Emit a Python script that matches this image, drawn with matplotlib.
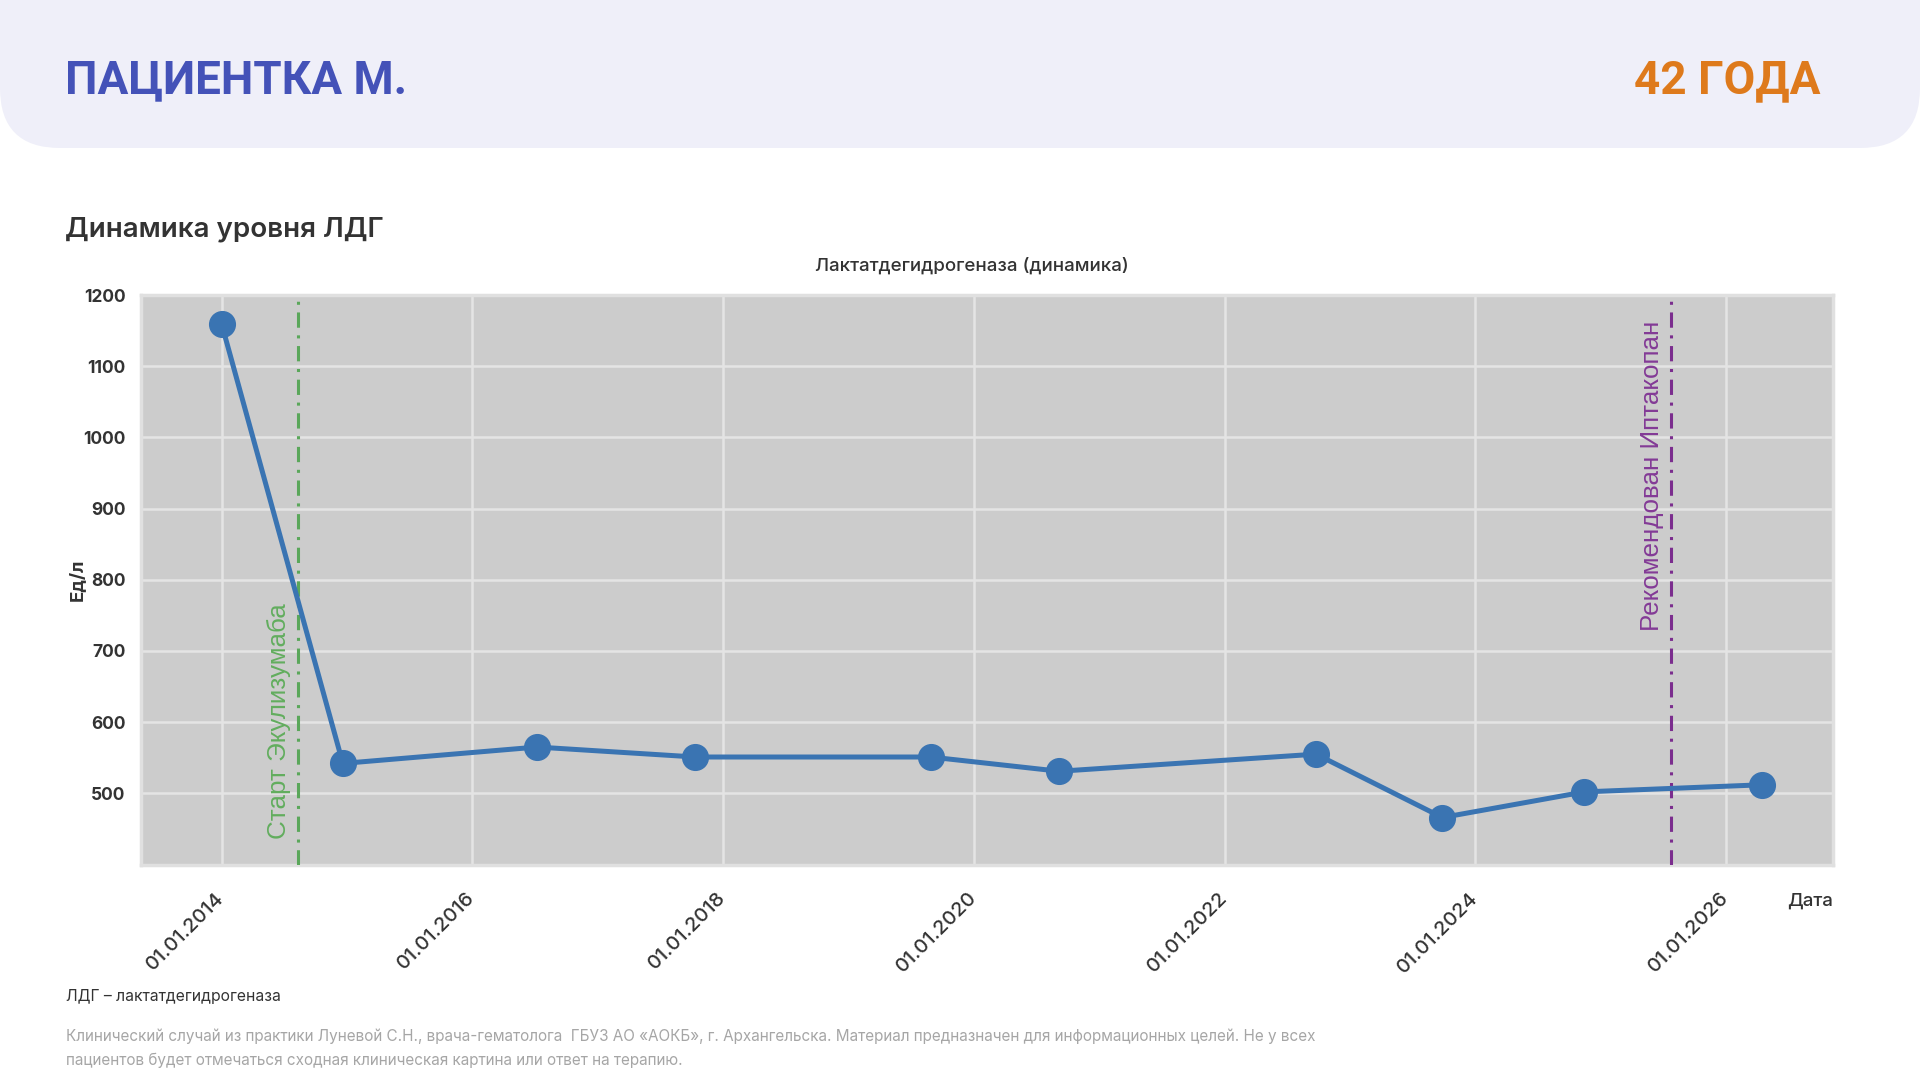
import matplotlib
matplotlib.use("Agg")
import matplotlib.pyplot as plt
from matplotlib.patches import FancyBboxPatch
from matplotlib import transforms
import pandas as pd

# ---- data ----
dates = ["2014-01-01", "2014-12-20", "2016-07-08", "2017-10-12", "2019-08-28",
         "2020-09-06", "2022-09-24", "2023-09-27", "2024-11-14", "2026-04-16"]
ldh = [1159, 542, 565, 551, 551, 531, 555, 466, 502, 512]
event_dates = ["2014-08-10", "2025-07-24"]
event_labels = ["Старт Экулизумаба", "Рекомендован Иптакопан"]
xtick_dates = ["2014-01-01", "2016-01-01", "2018-01-01", "2020-01-01",
               "2022-01-01", "2024-01-01", "2026-01-01"]
ytick_vals = [500, 600, 700, 800, 900, 1000, 1100, 1200]

title_left = "ПАЦИЕНТКА М."
title_right = "42 ГОДА"
section_title = "Динамика уровня ЛДГ"
chart_title = "Лактатдегидрогеназа (динамика)"
ylabel = "Ед/л"
xlabel = "Дата"
footnote = "ЛДГ – лактатдегидрогеназа"
disclaimer = ["Клинический случай из практики Луневой С.Н., врача-гематолога  ГБУЗ АО «АОКБ», г. Архангельска. Материал предназначен для информационных целей. Не у всех",
              "пациентов будет отмечаться сходная клиническая картина или ответ на терапию."]

plt.rcParams['font.family'] = ['Inter', 'DejaVu Sans']

W, H = 1920, 1080
fig = plt.figure(figsize=(19.2, 10.8), dpi=100)
fig.patch.set_facecolor("white")

# overlay axes in pixel coordinates
ov = fig.add_axes([0, 0, 1, 1], zorder=0)
ov.set_xlim(0, W)
ov.set_ylim(H, 0)
ov.axis("off")
ov.add_patch(FancyBboxPatch((0, -120), W, 268, boxstyle="round,pad=0,rounding_size=60",
                            facecolor="#efeff9", edgecolor="none"))
ov.text(65, 93, title_left, fontsize=33, fontweight="bold", color="#4452b8", va="baseline", ha="left",
        family=["Roboto", "DejaVu Sans"])
ov.text(1820, 93, title_right, fontsize=33, fontweight="bold", color="#de7a1c", va="baseline", ha="right",
        family=["Roboto", "DejaVu Sans"])
ov.text(65, 237, section_title, fontsize=20, fontweight="semibold", color="#333333", va="baseline", ha="left")
ov.text(66, 1001, footnote, fontsize=11.3, color="#333333", va="baseline", ha="left")
ov.text(66, 1041, disclaimer[0], fontsize=11, color="#a6a6a6", va="baseline", ha="left")
ov.text(66, 1065, disclaimer[1], fontsize=11, color="#a6a6a6", va="baseline", ha="left")

# main axes
L, R, T, B = 141, 1833, 295, 864.5
ax = fig.add_axes([L / W, 1 - B / H, (R - L) / W, (B - T) / H], zorder=1)
ax.set_facecolor("#cccccc")

x = pd.to_datetime(dates)
ax.plot(x, ldh, color="#3a74b2", lw=3.6, marker="o", markersize=18.5, zorder=4)

ev = pd.to_datetime(event_dates)
ev_colors = ["#5aa75a", "#7b2d8e"]
ev_text_colors = ["#62ad5e", "#833a96"]
for i, (d, lab) in enumerate(zip(ev, event_labels)):
    ax.axvline(d, color=ev_colors[i], lw=2.2, ls=(0, (5, 2.5, 1, 2.5)), zorder=3)
    tr = transforms.offset_copy(ax.get_xaxis_transform(), fig=fig, x=-19, y=0, units="dots")
    if i == 0:
        ax.text(d, 0.045, lab, rotation=90, color=ev_text_colors[i], fontsize=18.7,
                family=["Liberation Sans", "DejaVu Sans"], ha="center", va="bottom", transform=tr)
    else:
        ax.text(d, 0.955, lab, rotation=90, color=ev_text_colors[i], fontsize=18.7,
                family=["Liberation Sans", "DejaVu Sans"], ha="center", va="top", transform=tr)

ax.set_xlim(pd.Timestamp("2013-05-11"), pd.Timestamp("2026-11-08"))
ax.set_ylim(400, 1200)
xt = pd.to_datetime(xtick_dates)
ax.set_xticks(xt)
ax.set_xticklabels([d.strftime("%d.%m.%Y") for d in xt], rotation=45, ha="right", va="center",
                   rotation_mode="anchor", fontsize=14.5, fontweight="medium", color="#333333")
shift = transforms.ScaledTranslation(-6 / 100, 5 / 100, fig.dpi_scale_trans)
for lbl in ax.get_xticklabels():
    lbl.set_transform(lbl.get_transform() + shift)
ax.set_yticks(ytick_vals)
ax.set_yticklabels([str(v) for v in ytick_vals], fontsize=12.5, fontweight="bold", color="#333333")
ax.tick_params(axis="both", length=0)
ax.tick_params(axis="x", pad=22)
ax.tick_params(axis="y", pad=11)
ax.grid(True, color="#e4e4e4", lw=1.8, zorder=1)
ax.set_axisbelow(True)
for s in ax.spines.values():
    s.set_color("#e0e0e0")
    s.set_linewidth(2.5)

ax.set_title(chart_title, fontsize=13.5, fontweight="medium", color="#333333",
             x=(972 - L) / (R - L), y=(B - 265.5) / (B - T), va="center", pad=0)
ax.set_ylabel(ylabel, fontsize=13.5, fontweight="bold", color="#333333", va="center")
ax.yaxis.set_label_coords((77 - L) / (R - L), 0.5)
ax.set_xlabel(xlabel, fontsize=13.5, fontweight="medium", color="#333333", ha="right", va="center")
ax.xaxis.set_label_coords(1.0, -(901 - B) / (B - T))

fig.savefig("out.png", dpi=100, facecolor="white")
